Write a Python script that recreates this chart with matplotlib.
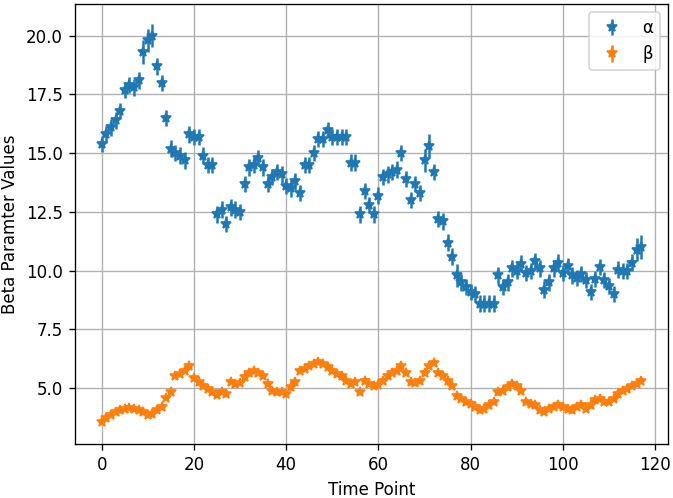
import numpy as np
import matplotlib.pyplot as plt

# values
alpha = [15.4, 15.8, 16.1, 16.4, 16.8, 17.7, 17.9, 17.8, 18.1, 19.3,
         19.8, 20.0, 18.7, 18.0, 16.5, 15.2, 15.0, 14.9, 14.7, 15.8,
         15.7, 15.7, 14.9, 14.5, 14.5, 12.4, 12.6, 12.0, 12.7, 12.6,
         12.5, 13.7, 14.4, 14.5, 14.8, 14.4, 13.7, 14.0, 14.2, 14.1,
         13.6, 13.5, 13.8, 13.3, 14.5, 14.5, 15.0, 15.6, 15.6, 16.0,
         15.7, 15.7, 15.7, 15.7, 14.6, 14.6, 12.4, 13.4, 12.8, 12.4,
         13.2, 14.0, 14.1, 14.2, 14.3, 15.0, 13.9, 13.0, 13.7, 13.3,
         14.7, 15.3, 14.2, 12.2, 12.1, 11.2, 10.6, 9.8, 9.5, 9.3,
         9.1, 9.0, 8.6, 8.6, 8.6, 8.6, 9.8, 9.3, 9.5, 10.1,
         10.0, 10.3, 9.9, 10.0, 10.4, 10.1, 9.2, 9.5, 10.1, 10.35,
         9.9, 10.2, 9.8, 9.7, 9.85, 9.6, 9.1, 9.65, 10.15, 9.6,
         9.35, 9.0, 10.05, 10.0, 10.0, 10.35, 10.9, 11.0]
beta = [3.57, 3.73, 3.87, 3.99, 4.06, 4.13, 4.16, 4.13, 4.06, 3.99,
        3.87, 3.92, 4.06, 4.2, 4.58, 4.83, 5.53, 5.6, 5.75, 5.96,
        5.42, 5.25, 5.11, 4.97, 4.83, 4.72, 4.86, 4.76, 5.28, 5.18,
        5.22, 5.46, 5.67, 5.75, 5.67, 5.53, 5.18, 4.9, 4.83, 4.86,
        4.76, 5.04, 5.25, 5.75, 5.84, 5.96, 6.03, 6.12, 6.03, 5.89,
        5.75, 5.6, 5.53, 5.32, 5.18, 5.25, 4.83, 5.32, 5.18, 5.11,
        5.14, 5.32, 5.53, 5.67, 5.75, 5.93, 5.67, 5.25, 5.22, 5.32,
        5.67, 5.96, 6.07, 5.67, 5.53, 5.32, 5.11, 4.69, 4.55, 4.41,
        4.34, 4.2, 4.06, 4.13, 4.27, 4.41, 4.83, 4.9, 5.04, 5.18,
        5.11, 4.9, 4.41, 4.34, 4.27, 4.06, 3.99, 4.13, 4.2, 4.27,
        4.2, 4.13, 4.06, 4.2, 4.27, 4.13, 4.27, 4.48, 4.55, 4.41,
        4.41, 4.55, 4.76, 4.9, 4.97, 5.11, 5.18, 5.32]
alpha_err = [0.35] * len(alpha)
for i in [9, 10, 11, 70, 71, 77, 116, 117]:
    alpha_err[i] = 0.5
beta_err = [0.1] * len(beta)
time_points = np.arange(len(alpha))

fig, ax = plt.subplots(figsize=(673 / 120, 498 / 120), dpi=120)
ax.errorbar(time_points, alpha, yerr=alpha_err, fmt='*', label='α')
ax.errorbar(time_points, beta, yerr=beta_err, fmt='*', label='β')
ax.set_xlabel("Time Point")
ax.set_ylabel("Beta Paramter Values")
ax.grid(True)
ax.legend(loc='upper right')
plt.subplots_adjust(left=0.111, right=0.993, top=0.992, bottom=0.108)

plt.savefig("out.png")
